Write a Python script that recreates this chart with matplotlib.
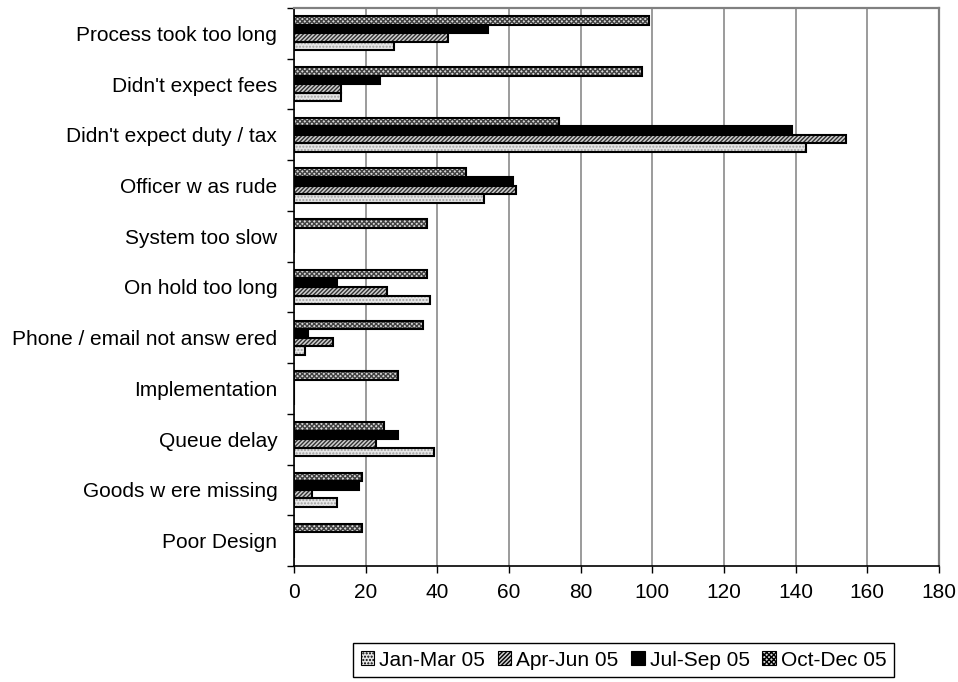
import numpy as np
import matplotlib.pyplot as plt

plt.rcParams['font.family'] = ['Liberation Sans', 'DejaVu Sans']
plt.rcParams['hatch.linewidth'] = 1.0

# complaint categories, top to bottom
categories = ["Process took too long", "Didn't expect fees", "Didn't expect duty / tax",
              "Officer w as rude", "System too slow", "On hold too long",
              "Phone / email not answ ered", "Implementation", "Queue delay",
              "Goods w ere missing", "Poor Design"]

jan_mar = [28, 13, 143, 53, 0, 38, 3, 0, 39, 12, 0]
apr_jun = [43, 13, 154, 62, 0, 26, 11, 0, 23, 5, 0]
jul_sep = [54, 24, 139, 61, 0, 12, 4, 0, 29, 18, 0]
oct_dec = [99, 97, 74, 48, 37, 37, 36, 29, 25, 19, 19]

series = [("Jan-Mar 05", jan_mar, '#e6e6e6', '.....', '#a0a0a0'),
          ("Apr-Jun 05", apr_jun, '#d0d0d0', '////////', '#303030'),
          ("Jul-Sep 05", jul_sep, 'black', None, 'black'),
          ("Oct-Dec 05", oct_dec, '#d8d8d8', 'xxxxxxx', '#404040')]

fig = plt.figure(figsize=(9.58, 6.82), dpi=100)
ax = fig.add_axes([0.3069, 0.1701, 0.6733, 0.8182])

n = len(categories)
ypos = np.arange(n)[::-1]
h = 0.168

handles = []
for k, (name, vals, fc, hatch, hc) in enumerate(series):
    yy = ypos + (k - 1.5) * h
    # hatch layer first, then outline on top
    ax.barh(yy, vals, height=h, color=fc, hatch=hatch, edgecolor=hc,
            linewidth=0, zorder=3)
    ax.barh(yy, vals, height=h, fill=False, edgecolor='black',
            linewidth=1.5, zorder=4)
    p = plt.Rectangle((0, 0), 1, 1, facecolor=fc, hatch=hatch, edgecolor=hc,
                      linewidth=0)
    handles.append(p)

ax.set_xlim(0, 180)
ax.set_ylim(-0.5, n - 0.5)
ax.set_xticks(np.arange(0, 181, 20))
ax.xaxis.grid(True, color='#808080', linewidth=1.1, zorder=0)
ax.set_axisbelow(True)

# category boundaries as major ticks, labels on minor ticks
ax.set_yticks(np.arange(-0.5, n, 1.0))
ax.set_yticklabels([])
ax.set_yticks(ypos, minor=True)
ax.set_yticklabels(categories, minor=True)
ax.tick_params(axis='y', which='major', length=5, width=1, direction='out')
ax.tick_params(axis='y', which='minor', length=0, pad=12, labelsize=15)
ax.tick_params(axis='x', length=5, width=1, direction='out', pad=7, labelsize=15)

for s in ['left', 'bottom']:
    ax.spines[s].set_color('black')
    ax.spines[s].set_linewidth(1.2)
for s in ['top', 'right']:
    ax.spines[s].set_color('#808080')
    ax.spines[s].set_linewidth(1.6)

leg = fig.legend(handles, [s[0] for s in series], ncol=4, loc='center',
                 bbox_to_anchor=(0.651, 0.032), fontsize=15, frameon=True,
                 fancybox=False, edgecolor='black', framealpha=1,
                 handlelength=0.65, handleheight=0.65, handletextpad=0.25,
                 columnspacing=0.6, borderpad=0.35, borderaxespad=0)
leg.get_frame().set_linewidth(1.0)
for p in leg.get_patches():
    p.set_edgecolor('black')
    p.set_linewidth(0.8)

fig.savefig('out.png', dpi=100)
